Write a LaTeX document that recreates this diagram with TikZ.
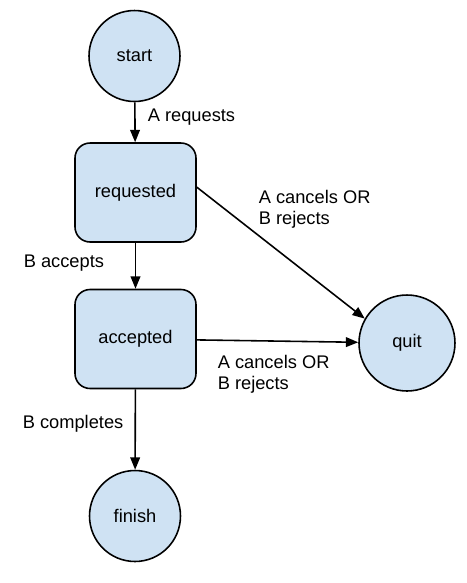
\documentclass[tikz,border=0pt]{standalone}
\usepackage{fontspec}
\setmainfont{Liberation Sans}
\usetikzlibrary{arrows.meta}
\definecolor{stateblue}{RGB}{207,226,243}
\begin{document}
\begin{tikzpicture}[x=0.02cm, y=-0.02cm, line width=0.9pt,
  every node/.style={font=\fontsize{10.4}{12}\selectfont},
  endstate/.style={circle, draw, fill=stateblue, minimum size=1.82cm, inner sep=0pt},
  midstate/.style={rectangle, draw, fill=stateblue, rounded corners=0.3cm, minimum width=2.42cm, minimum height=1.98cm},
  trans/.style={inner sep=0pt, align=left},
  edge/.style={-{Triangle[length=7pt, width=5.5pt]}}]
\useasboundingbox (0,0) rectangle (467,583);
\node[endstate] (start) at (134.5,56){start};
\node[midstate] (requested) at (135.5,192.5){requested};
\node[midstate] (accepted) at (135.5,339){accepted};
\node[endstate] (finish) at (135,516){finish};
\node[endstate, minimum size=1.92cm] (quit) at (407,343){quit};
\node[trans, anchor=west] (lreq) at (147,117){A requests};
\node[trans, anchor=north west] (lcan1) at (258,189){A cancels OR\\B rejects};
\node[trans, anchor=west] (lacc) at (23,263){B accepts};
\node[trans, anchor=north west] (lcan2) at (217,354){A cancels OR\\B rejects};
\node[trans, anchor=west] (lcomp) at (22,424){B completes};
\draw[edge](start) -- (requested);
\draw[edge](requested) -- (accepted);
\draw[edge](accepted) -- (finish);
\draw[edge](requested.5) -- (quit.150);
\draw[edge](accepted) -- (quit);

\end{tikzpicture}
\end{document}
